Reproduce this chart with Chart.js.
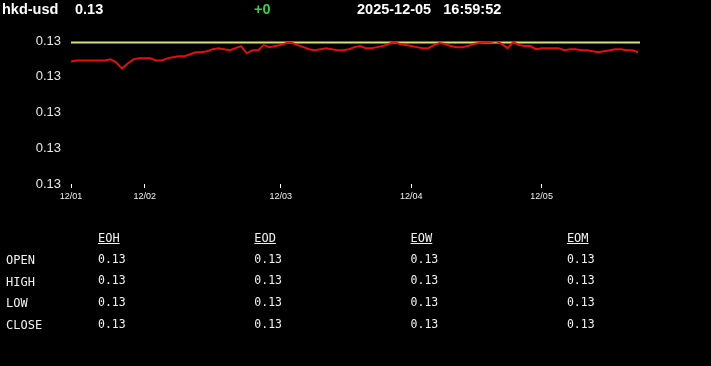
<!DOCTYPE html>
<html>
<head>
<meta charset="utf-8">
<script src="https://cdn.jsdelivr.net/npm/chart.js@4/dist/chart.umd.min.js"></script>
<style>
  html, body { margin:0; padding:0; background:#000; }
  body { width:711px; height:366px; overflow:hidden; position:relative; color:#fff; }
  #chart { position:absolute; left:0; top:0; }
  .hdr { position:absolute; top:0; font:bold 14.5px "Liberation Sans", Arial, sans-serif; line-height:17px; white-space:pre; color:#fff; }
  .cell { position:absolute; font-family:"DejaVu Sans Mono", monospace; line-height:16px; color:#f2f2f2; white-space:pre; }
</style>
</head>
<body>
<canvas id="chart" width="711" height="366"></canvas>
<div id="header"></div>
<div id="table"></div>
<script>
// ---- header ----
const symbol = 'hkd-usd';
const lastPrice = '0.13';
const change = '+0';
const quoteDate = '2025-12-05';
const quoteTime = '16:59:52';

// ---- chart data ----
const dayTickIndex = [0, 13, 37, 60, 83];
const dayTickLabels = ['12/01', '12/02', '12/03', '12/04', '12/05'];
const priceSeries = [
  0.12840, 0.12841, 0.12841, 0.12841, 0.12841, 0.12841, 0.12841, 0.12842, 0.12839, 0.12833,
  0.12838, 0.12842, 0.12843, 0.12843, 0.12843, 0.12841, 0.12841, 0.12843, 0.12844, 0.12845,
  0.12845, 0.12847, 0.12849, 0.12849, 0.12850, 0.12852, 0.12853, 0.12852, 0.12851, 0.12853,
  0.12855, 0.12848, 0.12851, 0.12851, 0.12856, 0.12854, 0.12855, 0.12856, 0.12858, 0.12858,
  0.12856, 0.12854, 0.12852, 0.12851, 0.12852, 0.12853, 0.12852, 0.12851, 0.12851, 0.12852,
  0.12854, 0.12855, 0.12853, 0.12853, 0.12854, 0.12855, 0.12857, 0.12859, 0.12857, 0.12856,
  0.12855, 0.12854, 0.12853, 0.12853, 0.12856, 0.12858, 0.12857, 0.12855, 0.12854, 0.12854,
  0.12855, 0.12857, 0.12858, 0.12859, 0.12859, 0.12860, 0.12857, 0.12853, 0.12859, 0.12856,
  0.12855, 0.12855, 0.12852, 0.12853, 0.12853, 0.12853, 0.12853, 0.12851, 0.12852, 0.12852,
  0.12851, 0.12851, 0.12850, 0.12849, 0.12850, 0.12851, 0.12852, 0.12852, 0.12851, 0.12851,
  0.12849
];
const referenceLevel = 0.128585;
const yTickValues = [0.1272, 0.12755, 0.1279, 0.12825, 0.1286];
const xRangeMax = 100.35;

// ---- table data ----
const tableColumns = ['EOH', 'EOD', 'EOW', 'EOM'];
const tableRows = ['OPEN', 'HIGH', 'LOW', 'CLOSE'];
const tableValues = [
  ['0.13', '0.13', '0.13', '0.13'],
  ['0.13', '0.13', '0.13', '0.13'],
  ['0.13', '0.13', '0.13', '0.13'],
  ['0.13', '0.13', '0.13', '0.13']
];

// ---- header render ----
(function () {
  const h = document.getElementById('header');
  const parts = [
    { t: symbol, x: 2, c: '#fff' },
    { t: lastPrice, x: 75, c: '#fff' },
    { t: change, x: 254, c: '#3ecf3e' },
    { t: quoteDate + '   ' + quoteTime, x: 357, c: '#fff' }
  ];
  parts.forEach(p => {
    const d = document.createElement('div');
    d.className = 'hdr';
    d.style.left = p.x + 'px';
    d.style.top = '1px';
    d.style.color = p.c;
    d.textContent = p.t;
    h.appendChild(d);
  });
})();

// ---- table render ----
(function () {
  const t = document.getElementById('table');
  const colX0 = 98, colStep = 156.3;
  function add(text, x, yc, size, underline) {
    const d = document.createElement('div');
    d.className = 'cell';
    d.style.left = x + 'px';
    d.style.top = (yc - 8) + 'px';
    d.style.fontSize = size + 'px';
    if (underline) d.style.textDecoration = 'underline';
    d.textContent = text;
    t.appendChild(d);
  }
  tableColumns.forEach((c, j) => add(c, colX0 + colStep * j, 238, 12, true));
  tableRows.forEach((r, i) => {
    const yc = 260 + i * 21.7;
    add(r, 6, yc, 12, false);
    tableValues[i].forEach((v, j) => add(v, colX0 + colStep * j, yc - 1.5, 11.5, false));
  });
})();

// ---- chart ----
const pricePoints = priceSeries.map((v, i) => ({ x: i, y: v }));
const refPoints = [{ x: 0, y: referenceLevel }, { x: xRangeMax, y: referenceLevel }];

new Chart(document.getElementById('chart'), {
  type: 'line',
  data: {
    datasets: [
      { data: pricePoints, borderColor: '#e80c0c', borderWidth: 2, pointRadius: 0, tension: 0, fill: false },
      { data: refPoints, borderColor: 'rgb(214,226,110)', borderWidth: 2, pointRadius: 0, tension: 0, fill: false }
    ]
  },
  options: {
    responsive: false,
    animation: false,
    events: [],
    layout: { padding: { top: 41, left: 0, right: 71, bottom: 162 } },
    plugins: { legend: { display: false }, tooltip: { enabled: false } },
    scales: {
      x: {
        type: 'linear',
        min: 0,
        max: xRangeMax,
        afterBuildTicks: s => { s.ticks = dayTickIndex.map(v => ({ value: v })); },
        afterFit: s => { s.height = 20; },
        border: { display: false },
        grid: { display: true, drawOnChartArea: false, drawTicks: true, tickLength: 4, tickColor: '#ffffff', tickWidth: 1 },
        ticks: {
          autoSkip: false, maxRotation: 0, minRotation: 0, padding: 3,
          color: '#f0f0f0',
          font: { family: '"Liberation Sans", Arial, sans-serif', size: 9 },
          callback: (v, i) => dayTickLabels[i]
        }
      },
      y: {
        min: yTickValues[0],
        max: yTickValues[yTickValues.length - 1],
        afterBuildTicks: s => { s.ticks = yTickValues.map(v => ({ value: v })); },
        afterFit: s => { s.width = 71; },
        border: { display: false },
        grid: { display: false, drawTicks: false },
        ticks: {
          padding: 10,
          color: '#e8e8e8',
          font: { family: '"Liberation Sans", Arial, sans-serif', size: 13 },
          callback: v => Number(v).toFixed(2)
        }
      }
    }
  }
});
</script>
</body>
</html>
